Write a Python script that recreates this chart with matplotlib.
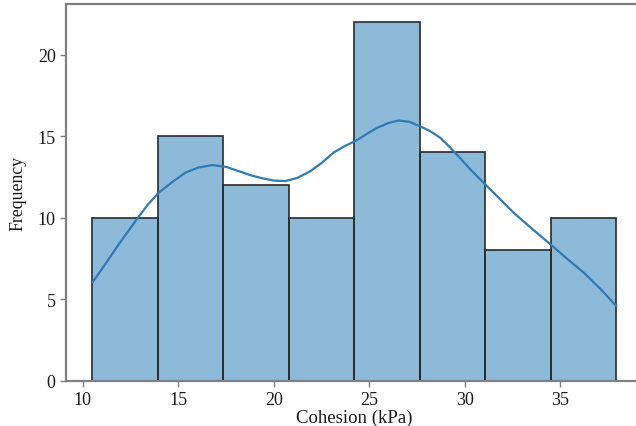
import numpy as np
import matplotlib
matplotlib.use('Agg')
import matplotlib.pyplot as plt

plt.rcParams['font.family'] = ['Liberation Serif', 'DejaVu Serif']

# histogram
bin_edges = [10.5, 13.93, 17.36, 20.79, 24.21, 27.64, 31.07, 34.5, 37.93]
counts = [10, 15, 12, 10, 22, 14, 8, 10]

# density curve (already scaled to counts), read point by point
kde_x = [10.52, 11.2, 11.9, 12.76, 13.4, 13.98, 14.7, 15.37, 16.05, 16.77,
         17.5, 18.16, 18.8, 19.4, 20.0, 20.61, 21.25, 21.92, 22.5, 23.13,
         23.7, 24.27, 24.85, 25.41, 26.0, 26.54, 27.1, 27.67, 28.2, 28.72,
         29.24, 29.8, 30.29, 31.07, 31.8, 32.55, 33.5, 34.48, 35.35, 36.22,
         37.1, 37.93]
kde_y = [6.06, 7.2, 8.4, 9.8, 10.8, 11.54, 12.2, 12.76, 13.08, 13.23,
         13.12, 12.86, 12.6, 12.42, 12.28, 12.25, 12.45, 12.86, 13.35, 13.99,
         14.38, 14.7, 15.12, 15.51, 15.8, 15.96, 15.88, 15.6, 15.3, 14.9,
         14.3, 13.6, 12.97, 12.05, 11.2, 10.32, 9.35, 8.38, 7.5, 6.65,
         5.65, 4.6]

fig = plt.figure(figsize=(6.36, 4.27), dpi=100)
ax = fig.add_axes([0.104, 0.1054, 0.906, 0.883])

edges = np.array(bin_edges)
ax.bar(edges[:-1], counts, width=np.diff(edges), align='edge',
       color='#1f77b4', alpha=0.5, edgecolor='none')
ax.bar(edges[:-1], counts, width=np.diff(edges), align='edge',
       fill=False, edgecolor='#2a2a2a', linewidth=1.2)
ax.plot(kde_x, kde_y, color='#2f7bb5', linewidth=1.6)

pad = 0.05 * (edges[-1] - edges[0])
ax.set_xlim(edges[0] - pad, edges[-1] + pad)
ax.set_ylim(0, max(counts) * 1.05)
ax.set_xticks([10, 15, 20, 25, 30, 35])
ax.set_yticks([0, 5, 10, 15, 20])

for s in ax.spines.values():
    s.set_color('#808080')
    s.set_linewidth(1.6)
ax.tick_params(colors='#808080', labelcolor='#1a1a1a', labelsize=13, length=4, width=1)

ax.set_xlabel('Cohesion (kPa)', fontsize=13.5, color='#1a1a1a', labelpad=0)
ax.set_ylabel('Frequency', fontsize=12.8, color='#1a1a1a', labelpad=8)

fig.savefig('out.png', dpi=100)
